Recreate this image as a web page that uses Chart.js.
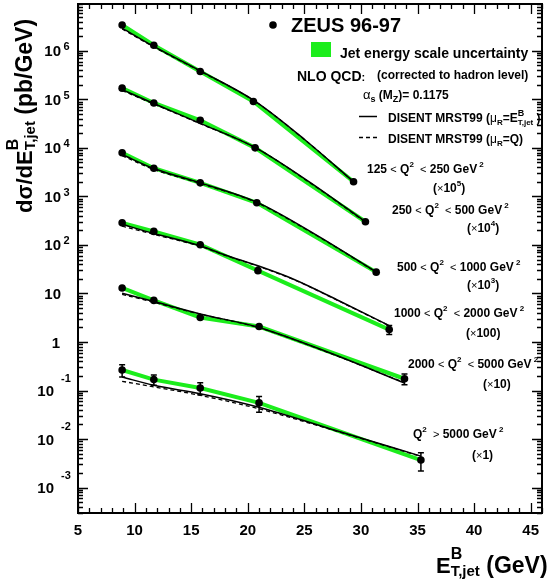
<!DOCTYPE html>
<html>
<head>
<meta charset="utf-8">
<script src="https://cdn.jsdelivr.net/npm/chart.js@4.4.0/dist/chart.umd.min.js"></script>
<style>
html, body { margin: 0; padding: 0; background: #fff; }
canvas { display: block; }
</style>
</head>
<body>
<canvas id="chart" width="554" height="585"></canvas>
<script>
// ZEUS 96-97 data, one array per Q2 bin (already scaled by the factor in the label)
const q2Low = [125, 250, 500, 1000, 2000, 5000];
const q2High = [250, 500, 1000, 2000, 5000, null];
const scaleText = ['10', '10', '10', '100', '10', '1'];
const scaleSup = ['5', '4', '3', '', '', ''];

const dataEt = [
    [8.9, 11.7, 15.8, 20.5, 29.35],
    [8.9, 11.7, 15.8, 20.65, 30.4],
    [8.9, 11.7, 15.8, 20.8, 31.35],
    [8.9, 11.7, 15.8, 20.9, 32.5],
    [8.9, 11.7, 15.8, 21.0, 33.85],
    [8.9, 11.7, 15.8, 21.0, 35.3]
];
const dataXsec = [
    [3.4e6, 1.3e6, 3.75e5, 9.0e4, 2.0e3],
    [1.7e5, 8.4e4, 3.7e4, 1.0e4, 300],
    [7.9e3, 3.8e3, 1.9e3, 740, 27.5],
    [285, 190, 101, 29.5, 1.8],
    [13, 7.2, 3.2, 2.08, 0.175],
    [0.265, 0.168, 0.113, 0.0556, 0.0037]
];
const dataErr = [
    [5e4, 2e4, 6e3, 2e3, 60],
    [3e3, 1.5e3, 800, 250, 10],
    [150, 80, 50, 20, 1],
    [6, 4, 3, 1.5, 0.38],
    [0.5, 0.4, 0.55, 0.36, 0.043],
    [0.075, 0.04, 0.031, 0.02, 0.0015]
];

// NLO QCD (DISENT MRST99) curves
const nloEt = [
    [8.9, 11.7, 15.8, 20.6, 25.2, 29.35],
    [8.9, 11.7, 15.8, 20.7, 25.5, 30.4],
    [8.9, 11.7, 15.8, 20.8, 26.0, 31.35],
    [8.9, 11.7, 15.8, 18.0, 20.9, 24.0, 28.1, 32.5],
    [8.9, 11.7, 15.8, 20.9, 27.0, 33.85],
    [8.9, 11.7, 15.8, 20.9, 28.0, 35.3]
];
const nloMuEt = [
    [2.93e6, 1.23e6, 3.85e5, 9.3e4, 1.37e4, 2.0e3],
    [1.58e5, 8.2e4, 3.2e4, 1.0e4, 1.95e3, 300],
    [7.3e3, 3.75e3, 1.9e3, 760, 163, 27.8],
    [267, 172, 96, 62, 37.2, 19.9, 7.0, 2.18],
    [10.1, 6.8, 3.79, 2.02, 0.63, 0.143],
    [0.19, 0.128, 0.0863, 0.046, 0.0145, 0.00446]
];
const nloMuQ = [
    [2.82e6, 1.2e6, 3.8e5, 9.2e4, 1.36e4, 2.0e3],
    [1.52e5, 8.0e4, 3.15e4, 1.0e4, 1.9e3, 295],
    [6.9e3, 3.6e3, 1.85e3, 740, 160, 27.5],
    [245, 165, 94, 61, 36.5, 19.6, 6.9, 2.15],
    [9.6, 6.6, 3.75, 2.0, 0.62, 0.145],
    [0.155, 0.119, 0.0796, 0.0425, 0.0142, 0.0044]
];

const xTicks = [5, 10, 15, 20, 25, 30, 35, 40, 45];
const yTickExp = [-3, -2, -1, 0, 1, 2, 3, 4, 5, 6];

const FONT = '"Liberation Sans", Arial, Helvetica, sans-serif';
const GREEN = '#1ced1c';

function pts(xs, ys) {
    return xs.map((x, i) => ({ x: x, y: ys[i] }));
}

// draws a run of text pieces; a piece with stack:true does not move the pen
function txt(ctx, x, y, parts) {
    let cx = x, maxx = x;
    parts.forEach(p => {
        ctx.font = (p.w || 'bold') + ' ' + p.s + 'px ' + FONT;
        const px = p.x !== undefined ? x + p.x : cx;
        ctx.fillText(p.t, px, y + (p.dy || 0));
        const end = px + ctx.measureText(p.t).width;
        if (p.stack) {
            maxx = Math.max(maxx, end);
        } else {
            cx = Math.max(end, maxx);
            maxx = cx;
        }
    });
}

const datasets = [];
for (let i = 0; i < dataEt.length; i++) {
    datasets.push({
        label: 'data' + i,
        data: pts(dataEt[i], dataXsec[i]),
        showLine: false,
        pointRadius: 3.8,
        pointBackgroundColor: '#000',
        pointBorderWidth: 0,
        order: 0,
        errors: dataErr[i]
    });
    datasets.push({
        label: 'nloEt' + i,
        data: pts(nloEt[i], nloMuEt[i]),
        borderColor: '#000',
        borderWidth: 1.5,
        pointRadius: 0,
        cubicInterpolationMode: 'monotone',
        order: 1
    });
    datasets.push({
        label: 'nloQ' + i,
        data: pts(nloEt[i], nloMuQ[i]),
        borderColor: '#000',
        borderWidth: 1.3,
        borderDash: [4, 3],
        pointRadius: 0,
        cubicInterpolationMode: 'monotone',
        order: 1
    });
    datasets.push({
        label: 'jes' + i,
        data: pts(dataEt[i], dataXsec[i]),
        borderColor: GREEN,
        borderWidth: 4,
        pointRadius: 0,
        tension: 0,
        order: 2
    });
}

const decor = {
    id: 'decor',
    beforeDatasetDraw(chart, args) {
        const ds = chart.data.datasets[args.index];
        if (!ds.errors) return;
        const ctx = chart.ctx, xs = chart.scales.x, ys = chart.scales.y;
        ctx.save();
        ctx.strokeStyle = '#000';
        ctx.lineWidth = 1.5;
        ds.data.forEach((p, j) => {
            const px = xs.getPixelForValue(p.x);
            const yt = ys.getPixelForValue(p.y + ds.errors[j]);
            const yb = ys.getPixelForValue(p.y - ds.errors[j]);
            if (yb - yt < 8) return;
            ctx.beginPath();
            ctx.moveTo(px, yt); ctx.lineTo(px, yb);
            ctx.moveTo(px - 3, yt); ctx.lineTo(px + 3, yt);
            ctx.moveTo(px - 3, yb); ctx.lineTo(px + 3, yb);
            ctx.stroke();
        });
        ctx.restore();
    },
    afterDraw(chart) {
        const ctx = chart.ctx, xs = chart.scales.x, ys = chart.scales.y;
        const a = chart.chartArea;
        ctx.save();
        ctx.strokeStyle = '#000';
        ctx.fillStyle = '#000';

        // frame
        ctx.lineWidth = 2;
        ctx.strokeRect(a.left, a.top, a.right - a.left, a.bottom - a.top);

        // ticks
        ctx.lineWidth = 1.3;
        ctx.beginPath();
        for (let v = 5; v <= 46; v++) {
            const px = Math.round(xs.getPixelForValue(v)) + 0.5;
            const len = v % 5 === 0 ? 10 : 5;
            ctx.moveTo(px, a.bottom); ctx.lineTo(px, a.bottom - len);
            ctx.moveTo(px, a.top); ctx.lineTo(px, a.top + len);
        }
        for (let d = -4; d <= 7; d++) {
            for (let m = 1; m <= 9; m++) {
                const v = m * Math.pow(10, d);
                if (v < ys.min || v > ys.max) continue;
                const py = Math.round(ys.getPixelForValue(v)) + 0.5;
                const len = m === 1 ? 10 : 5;
                ctx.moveTo(a.left, py); ctx.lineTo(a.left + len, py);
                ctx.moveTo(a.right, py); ctx.lineTo(a.right - len, py);
            }
        }
        ctx.stroke();

        // x tick labels
        ctx.textAlign = 'center';
        ctx.textBaseline = 'alphabetic';
        ctx.font = 'bold 15px ' + FONT;
        xTicks.forEach(v => ctx.fillText(String(v), xs.getPixelForValue(v), 535));

        // y tick labels
        yTickExp.forEach(e => {
            const py = ys.getPixelForValue(Math.pow(10, e));
            ctx.textAlign = 'right';
            ctx.font = 'bold 15px ' + FONT;
            if (e === 0) { ctx.fillText('1', 60, py + 5.5); return; }
            if (e === 1) { ctx.fillText('10', 61, py + 5.5); return; }
            ctx.textAlign = 'left';
            ctx.font = 'bold 11px ' + FONT;
            if (e > 0) {
                ctx.fillText(String(e), 63.5, py - 0.5);
                ctx.textAlign = 'right';
                ctx.font = 'bold 15px ' + FONT;
                ctx.fillText('10', 61, py + 5.5);
            } else {
                ctx.fillText(String(e), 61, py - 9);
                ctx.textAlign = 'right';
                ctx.font = 'bold 15px ' + FONT;
                ctx.fillText('10', 54, py + 5.5);
            }
        });

        ctx.textAlign = 'left';
        // axis titles
        txt(ctx, 436, 573, [
            { t: 'E', s: 22 },
            { t: 'B', s: 16, dy: -14, stack: true },
            { t: 'T,jet', s: 15, dy: 3 },
            { t: ' (GeV)', s: 23 }
        ]);
        ctx.save();
        ctx.translate(32, 213);
        ctx.rotate(-Math.PI / 2);
        txt(ctx, 0, 0, [
            { t: 'd\u03c3/dE', s: 22 },
            { t: 'B', s: 16, dy: -14, stack: true },
            { t: 'T,jet', s: 15, dy: 3 },
            { t: ' (pb/GeV)', s: 23 }
        ]);
        ctx.restore();

        // legend
        ctx.beginPath();
        ctx.arc(273, 25, 3.8, 0, Math.PI * 2);
        ctx.fill();
        txt(ctx, 291, 32, [{ t: 'ZEUS 96-97', s: 20 }]);
        ctx.fillStyle = GREEN;
        ctx.fillRect(311, 42, 20, 15);
        ctx.fillStyle = '#000';
        txt(ctx, 340, 57.5, [{ t: 'Jet energy scale uncertainty', s: 14 }]);
        txt(ctx, 297, 81, [{ t: 'NLO QCD', s: 14 }, { t: ':', s: 11 }]);
        txt(ctx, 377, 78.5, [{ t: '(corrected to hadron level)', s: 12 }]);
        txt(ctx, 363, 98.5, [
            { t: '\u03b1', s: 13, w: 'normal' },
            { t: 's', s: 9, dy: 3 },
            { t: ' (M', s: 12 },
            { t: 'Z', s: 9, dy: 3 },
            { t: ')= 0.1175', s: 12 }
        ]);
        ctx.lineWidth = 1.5;
        ctx.beginPath();
        ctx.moveTo(359, 116.5); ctx.lineTo(377, 116.5);
        ctx.stroke();
        ctx.setLineDash([4, 3]);
        ctx.beginPath();
        ctx.moveTo(359, 137.5); ctx.lineTo(377, 137.5);
        ctx.stroke();
        ctx.setLineDash([]);
        txt(ctx, 388, 121.5, [
            { t: 'DISENT MRST99 (', s: 12 },
            { t: '\u03bc', s: 12, w: 'normal' },
            { t: 'R', s: 8, dy: 3 },
            { t: '=E', s: 12 },
            { t: 'B', s: 9, dy: -6, stack: true },
            { t: 'T,jet', s: 8, dy: 3 },
            { t: ' )', s: 12 }
        ]);
        txt(ctx, 388, 142.5, [
            { t: 'DISENT MRST99 (', s: 12 },
            { t: '\u03bc', s: 12, w: 'normal' },
            { t: 'R', s: 8, dy: 3 },
            { t: '=Q)', s: 12 }
        ]);

        // Q2 bin labels
        const labPos = [[367, 172.5], [392, 214], [397, 270.5], [394, 316.5], [408, 367.5], [413, 438]];
        const facPos = [[433, 191.5], [467, 231.5], [467, 288.5], [466, 336.5], [483, 387.5], [472, 459]];
        for (let i = 0; i < q2Low.length; i++) {
            let parts;
            if (q2High[i] !== null) {
                parts = [
                    { t: q2Low[i] + ' ', s: 12 },
                    { t: '<', s: 11, w: 'normal' },
                    { t: ' Q', s: 12 },
                    { t: '2', s: 8, dy: -6 },
                    { t: '  <', s: 11, w: 'normal' },
                    { t: ' ' + q2High[i] + ' GeV', s: 12 },
                    { t: ' 2', s: 8, dy: -6 }
                ];
            } else {
                parts = [
                    { t: 'Q', s: 12 },
                    { t: '2', s: 8, dy: -6 },
                    { t: '  >', s: 11, w: 'normal' },
                    { t: ' ' + q2Low[i] + ' GeV', s: 12 },
                    { t: ' 2', s: 8, dy: -6 }
                ];
            }
            txt(ctx, labPos[i][0], labPos[i][1], parts);
            txt(ctx, facPos[i][0], facPos[i][1], [
                { t: '(', s: 12 },
                { t: '\u00d7', s: 11, w: 'normal' },
                { t: scaleText[i], s: 12 },
                { t: scaleSup[i], s: 8, dy: -6 },
                { t: ')', s: 12 }
            ]);
        }
        ctx.restore();
    }
};

new Chart(document.getElementById('chart'), {
    type: 'line',
    data: { datasets: datasets },
    options: {
        responsive: false,
        animation: false,
        events: [],
        layout: { padding: { left: 78, top: 4, right: 12, bottom: 72 } },
        plugins: { legend: { display: false }, tooltip: { enabled: false } },
        scales: {
            x: { type: 'linear', min: 5, max: 46, display: false },
            y: { type: 'logarithmic', min: 3.2e-4, max: 9.2e6, display: false }
        }
    },
    plugins: [decor]
});
</script>
</body>
</html>
